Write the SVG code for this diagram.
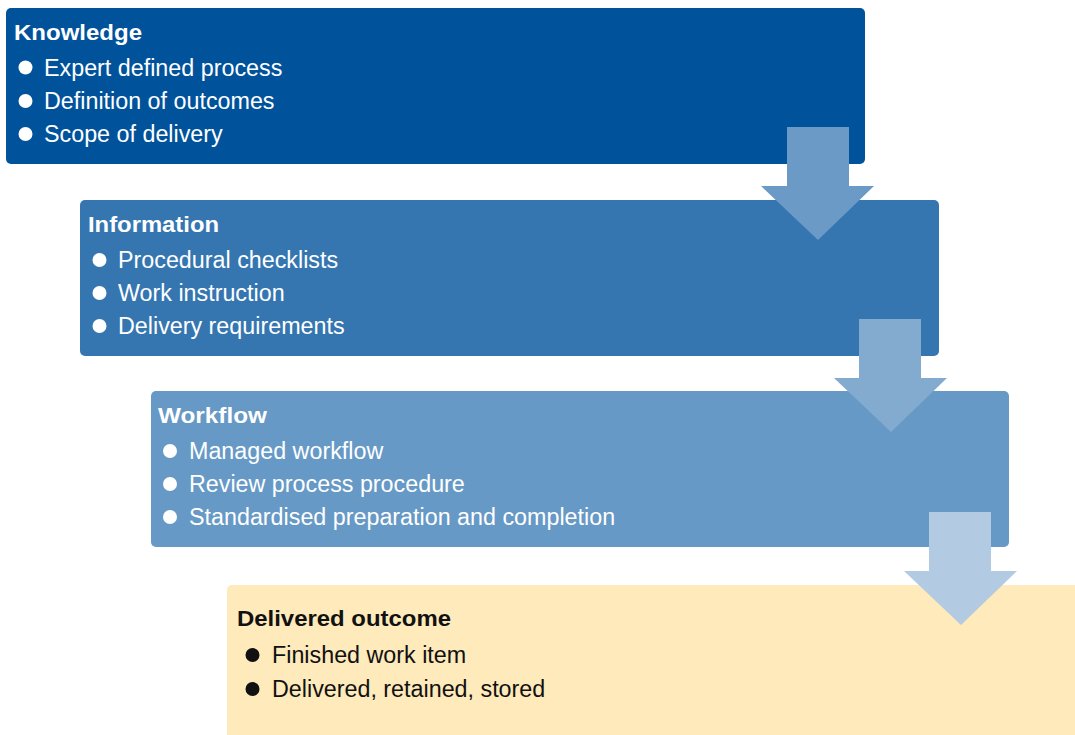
<svg xmlns="http://www.w3.org/2000/svg" width="1075" height="735" viewBox="0 0 1075 735">
<style>
  text { font-family: "Liberation Sans", Arial, Helvetica, sans-serif; }
  .title { font-size: 22px; font-weight: bold; }
  .item { font-size: 23.3px; }
  .w { fill: #ffffff; }
  .k { fill: #111111; }
  .a1 { fill: #6B9AC6; }
  .a2 { fill: #83AACF; }
  .a3 { fill: #B3CBE2; }
</style>
<rect width="1075" height="735" fill="#ffffff"/>
<g id="knowledge">
  <rect x="6" y="8" width="859" height="156" rx="5" fill="#00529B"/>
  <text class="title w" x="14" y="40" textLength="128" lengthAdjust="spacingAndGlyphs">Knowledge</text>
  <circle class="w" cx="25.5" cy="67.5" r="7"/>
  <text class="item w" x="44" y="75.5">Expert defined process</text>
  <circle class="w" cx="25.5" cy="101" r="7"/>
  <text class="item w" x="44" y="108.5">Definition of outcomes</text>
  <circle class="w" cx="25.5" cy="134" r="7"/>
  <text class="item w" x="44" y="141.5">Scope of delivery</text>
</g>
<g id="information">
  <rect x="80" y="200" width="859" height="156" rx="5" fill="#3576B1"/>
  <text class="title w" x="88" y="232" textLength="131" lengthAdjust="spacingAndGlyphs">Information</text>
  <circle class="w" cx="99.5" cy="260" r="7"/>
  <text class="item w" x="118" y="267.5">Procedural checklists</text>
  <circle class="w" cx="99.5" cy="293" r="7"/>
  <text class="item w" x="118" y="300.5">Work instruction</text>
  <circle class="w" cx="99.5" cy="326" r="7"/>
  <text class="item w" x="118" y="333.5">Delivery requirements</text>
</g>
<g id="workflow">
  <rect x="151" y="391" width="858" height="156" rx="5" fill="#6699C5"/>
  <text class="title w" x="158" y="423" textLength="109" lengthAdjust="spacingAndGlyphs">Workflow</text>
  <circle class="w" cx="170" cy="451" r="7"/>
  <text class="item w" x="189" y="458.5">Managed workflow</text>
  <circle class="w" cx="170" cy="484" r="7"/>
  <text class="item w" x="189" y="491.5">Review process procedure</text>
  <circle class="w" cx="170" cy="517" r="7"/>
  <text class="item w" x="189" y="524.5">Standardised preparation and completion</text>
</g>
<g id="delivered">
  <rect x="227" y="585" width="858" height="160" rx="5" fill="#FEEABA"/>
  <text class="title k" x="237" y="626" textLength="214" lengthAdjust="spacingAndGlyphs">Delivered outcome</text>
  <circle class="k" cx="252.5" cy="655" r="7"/>
  <text class="item k" x="272" y="662.5">Finished work item</text>
  <circle class="k" cx="252.5" cy="689" r="7"/>
  <text class="item k" x="272" y="696.5">Delivered, retained, stored</text>
</g>
<g id="connectors">
  <polygon class="a1" points="787,127 849,127 849,186 874,186 818,240 761,186 787,186"/>
  <polygon class="a2" points="859,319 921,319 921,378 947,378 891,432 834,378 859,378"/>
  <polygon class="a3" points="929,512 991,512 991,571 1017,571 961,625 904,571 929,571"/>
</g>
</svg>
